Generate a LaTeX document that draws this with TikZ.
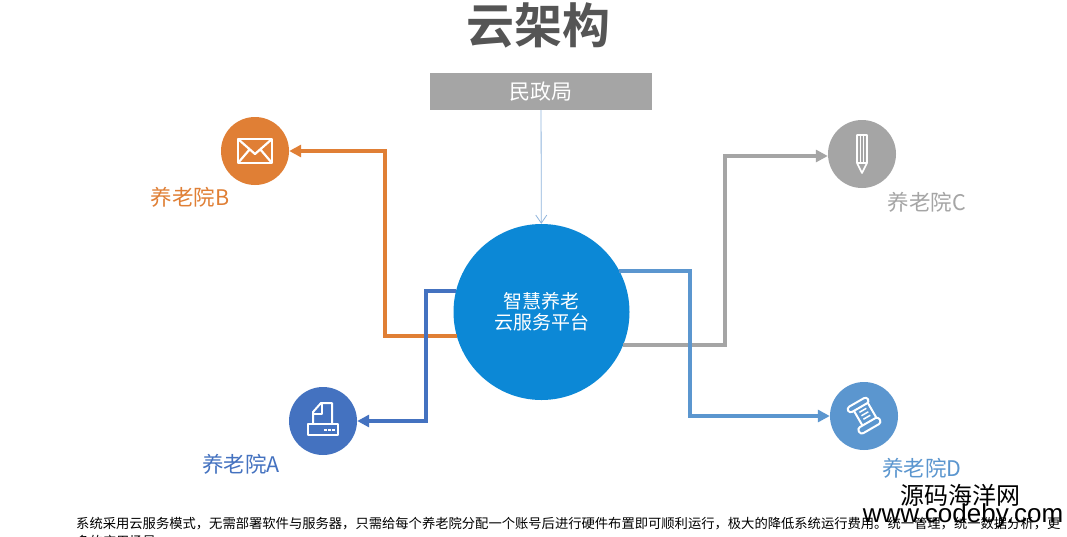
\documentclass[tikz,border=0pt]{standalone}
\usepackage{fontspec}
\setmainfont{Noto Sans CJK SC}
\newfontfamily\cjkb{Noto Sans CJK SC Bold}
\usetikzlibrary{arrows.meta}
\definecolor{corange}{HTML}{E07F35}
\definecolor{cblueA}{HTML}{4472C0}
\definecolor{cgray}{HTML}{A5A5A5}
\definecolor{cblueD}{HTML}{5B96CF}
\definecolor{cmain}{HTML}{0C88D6}
\definecolor{ctitle}{HTML}{555555}
\definecolor{cthin}{HTML}{8FB4DC}
\newcommand{\pxfont}[1]{\fontsize{#1}{#1}\selectfont}
\tikzset{
  x=1pt,y=-1pt,
  hub/.style={circle,minimum size=#1,inner sep=0pt,draw=none},
  label text/.style={inner sep=0pt,anchor=center},
  link/.style={line width=4pt,-{Triangle[length=12pt,width=12pt]}},
  icon/.style={draw=white,line width=2pt,line join=round,fill=none},
}
\begin{document}
\begin{tikzpicture}
\useasboundingbox (0,0) rectangle (1067,536);
\fill[white] (0,0) rectangle (1067,536);
\node[label text,text=ctitle] (title) at (538,25) {\cjkb\pxfont{48}云架构};
\node[fill=cgray,minimum width=222pt,minimum height=37pt,inner sep=0pt,text=white] (top) at (541,91.5) {\pxfont{21}民政局};
\node[hub=176pt,fill=cmain] (c) at (541.5,312) {};
\node[label text,text=white] (c1) at (541.5,301) {\pxfont{19}智慧养老};
\node[label text,text=white] (c2) at (542,322) {\pxfont{19}云服务平台};
\node[hub=68pt,fill=corange] (B) at (255,151) {};
\node[hub=68pt,fill=cblueA] (A) at (323,421) {};
\node[hub=68pt,fill=cgray] (C) at (862,154) {};
\node[hub=68pt,fill=cblueD] (D) at (864,416) {};
\coordinate (bk) at (385,151);
\coordinate (ak) at (426,421);
\coordinate (ck) at (725,156);
\coordinate (dk) at (690,416);
\draw[link,corange] (c.196.5) -| (bk) -- (B.east);
\draw[link,cblueA] (c.166.2) -| (ak) -- (A.east);
\draw[link,cgray] (c.-22.7) -| (ck) -- (C.west|-ck);
\draw[link,cblueD] (c.28.5) -| (dk) -- (D.west);
\draw[-{Straight Barb[length=8pt,width=11pt]},line width=0.8pt,color=cthin] (top) -- (c);
\node[label text,text=corange] (lb) at (190,197) {\pxfont{21.5}养老院B};
\node[label text,text=cblueA] (la) at (241,464) {\pxfont{21.5}养老院A};
\node[label text,text=cgray] (lc) at (927,202) {\pxfont{21.5}养老院C};
\node[label text,text=cblueD] (ld) at (922,468) {\pxfont{21.5}养老院D};
\begin{scope}[shift={(255,151)}]
  \draw[icon,line width=2.6pt] (-17,-12) rectangle (17,12);
  \draw[icon,line width=2.2pt] (-17,-12) -- (0,3) -- (17,-12) (-17,12) -- (-5,-2) (17,12) -- (5,-2);
\end{scope}
\begin{scope}[shift={(323,421)}]
  \draw[icon] (-10,3) -- (-10,-9) -- (-2,-18) -- (9,-18) -- (9,3);
  \draw[icon] (-10,-7) -- (-1,-7) -- (-1,-18);
  \draw[icon] (-15,3) rectangle (15,14);
  \foreach \i in {2,6,10} \fill[white] (\i-1,7.5) rectangle (\i+1.5,10);
\end{scope}
\begin{scope}[shift={(862,154)}]
  \draw[icon,line width=1.6pt] (-5,-19) -- (5,-19) -- (5,9) -- (0,19) -- (-5,9) -- cycle;
  \draw[icon,line width=1.3pt] (-5,9) -- (5,9) (-1.5,-19) -- (-1.5,9) (1.5,-19) -- (1.5,9);
\end{scope}
\begin{scope}[shift={(865,416)},rotate=30]
  \draw[icon,rounded corners=3pt] (-12,-16) rectangle (11,-10);
  \draw[icon] (-7,-10) -- (-7,7) (9,-10) -- (9,8);
  \draw[icon,rounded corners=3pt] (-13,7) rectangle (11,14);
  \draw[icon,line width=1.5pt] (-3,-6) -- (5,-6) (-3,-2) -- (5,-2) (-3,2) -- (5,2);
\end{scope}
\begin{scope}
\clip (0,0) rectangle (1067,536);
\node[inner sep=0pt,anchor=west,text=black] (desc) at (76,523.5) {\pxfont{13.3}系统采用云服务模式，无需部署软件与服务器，只需给每个养老院分配一个账号后进行硬件布置即可顺利运行，极大的降低系统运行费用。统一管理，统一数据分析，更};
\node[inner sep=0pt,anchor=west,text=black] (desc2) at (76,541) {\pxfont{13.3}多的应用场景};
\end{scope}
\node[label text,text=black] (wm1) at (960,495) {\pxfont{24}源码海洋网};
\node[label text,text=black] (wm2) at (963,516) {\fontspec{Liberation Sans}\pxfont{26}www.codeby.com};
\end{tikzpicture}
\end{document}
